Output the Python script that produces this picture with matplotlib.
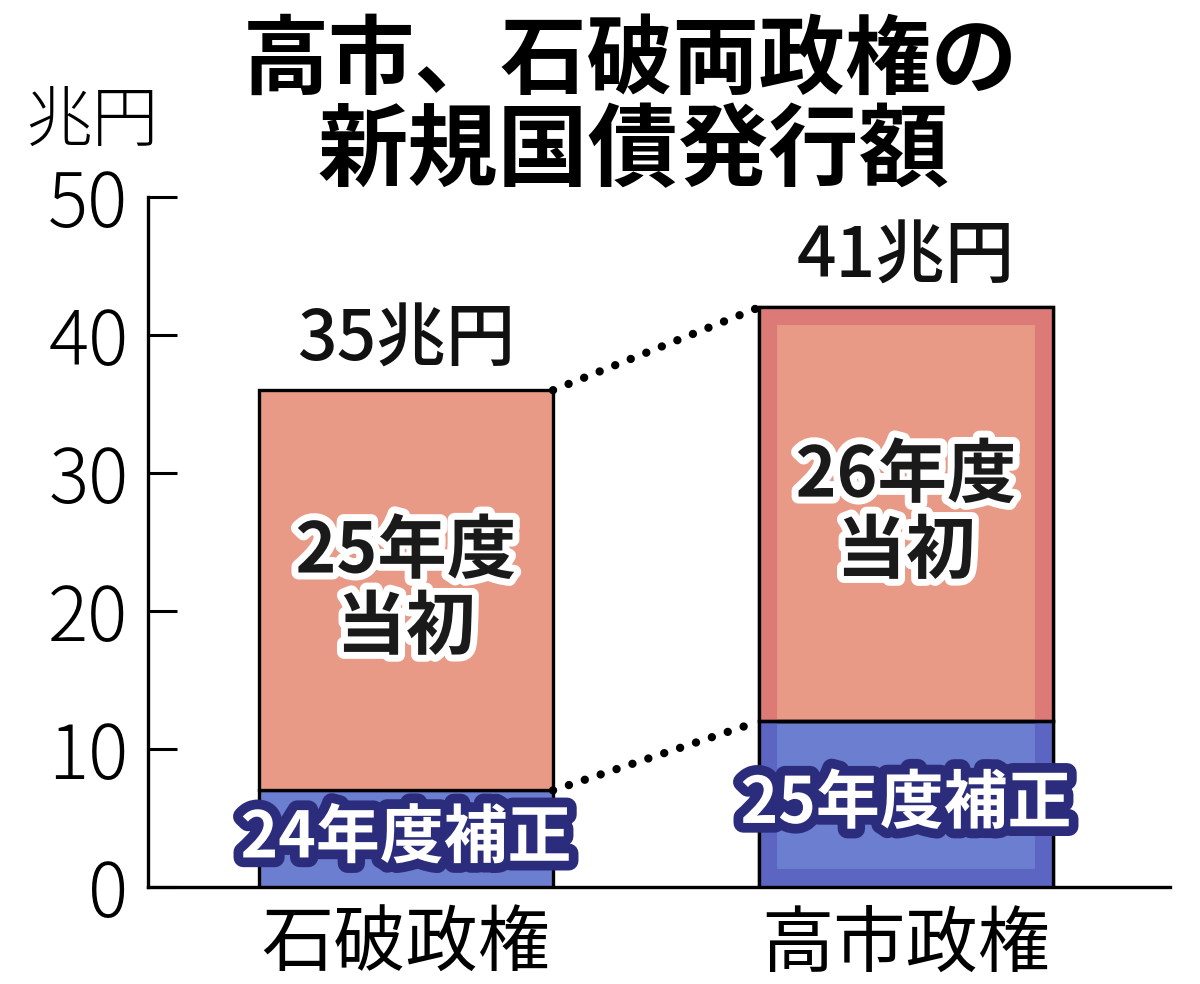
import matplotlib
matplotlib.use("Agg")
import matplotlib.pyplot as plt
import matplotlib.patheffects as pe

plt.rcParams['font.family'] = ['Noto Sans CJK JP', 'DejaVu Sans']

# ---- data ----
categories = ["石破政権", "高市政権"]
hosei_values = [7, 12]        # 補正 (bottom segment)
tosho_values = [29, 30]       # 当初 (top segment)
hosei_labels = ["24年度補正", "25年度補正"]
tosho_labels = ["25年度\n当初", "26年度\n当初"]
total_labels = ["35兆円", "41兆円"]
yticks = [0, 10, 20, 30, 40, 50]
title_lines = ["高市、石破両政権の", "新規国債発行額"]
unit_label = "兆円"

# ---- style ----
red_fill = "#E89A86"
red_frame = "#DC7A78"
blue_fill = "#6C7ED0"
blue_frame = "#5C66C2"
navy = "#2B2D7C"

fig = plt.figure(figsize=(12, 9.84), dpi=100)
ax = fig.add_axes([148/1200, 97/984, 1022/1200, 690/984])

x = list(range(len(categories)))
width = 0.588
ax.set_xlim(-0.516, 1.528)
ax.set_ylim(0, 50)

totals = [h + t for h, t in zip(hosei_values, tosho_values)]

bars_b = ax.bar(x, hosei_values, width=width, color=blue_fill, edgecolor="black",
                linewidth=2.4, zorder=3)
bars_t = ax.bar(x, tosho_values, bottom=hosei_values, width=width, color=red_fill,
                edgecolor="black", linewidth=2.4, zorder=3)

# inner darker frame around the whole right bar, coloured per segment
for bars, fc in ((bars_b, blue_frame), (bars_t, red_frame)):
    p = bars[1]
    frame = plt.Rectangle((p.get_x(), 0), p.get_width(), totals[1], facecolor="none",
                          edgecolor=fc, linewidth=26, zorder=3.5)
    ax.add_patch(frame)
    frame.set_clip_path(p)
    outline = plt.Rectangle(p.get_xy(), p.get_width(), p.get_height(), facecolor="none",
                            edgecolor="black", linewidth=2.4, zorder=3.6)
    ax.add_patch(outline)

# dotted connectors
ax.plot([x[0] + width/2, x[1] - width/2], [totals[0], totals[1]], color="black",
        linewidth=6, linestyle=(0, (0.01, 2.0)), dash_capstyle="round", zorder=4)
ax.plot([x[0] + width/2, x[1] - width/2], [hosei_values[0], hosei_values[1]], color="black",
        linewidth=6, linestyle=(0, (0.01, 2.0)), dash_capstyle="round", zorder=4)

# labels
for i in x:
    ax.text(i, totals[i] + 3.6, total_labels[i], ha="center", va="center",
            fontsize=50, fontweight="medium", color="#111111", zorder=5)
    ax.text(i, hosei_values[i] + tosho_values[i] / 2, tosho_labels[i], ha="center",
            va="center", fontsize=50, fontweight="bold", color="#1a1a1a",
            linespacing=1.1, zorder=5,
            path_effects=[pe.withStroke(linewidth=10, foreground="white")])
    ax.text(i, hosei_values[i] / 2, hosei_labels[i], ha="center", va="center",
            fontsize=46, fontweight="bold", color="white", zorder=5,
            path_effects=[pe.withStroke(linewidth=14, foreground=navy)])

# axes styling
for s in ("top", "right"):
    ax.spines[s].set_visible(False)
for s in ("left", "bottom"):
    ax.spines[s].set_linewidth(2.4)
    ax.spines[s].set_color("black")

ax.set_yticks(yticks)
ax.set_yticklabels([str(v) for v in yticks], fontsize=54, fontweight="light")
ax.tick_params(axis="y", direction="in", length=21, width=2.2, pad=14)
ax.set_xticks(x)
ax.set_xticklabels(categories, fontsize=52)
ax.tick_params(axis="x", length=0, pad=16)

fig.text(0.525, 1 - 62/984, title_lines[0], ha="center", va="center",
         fontsize=62, fontweight="bold")
fig.text(0.528, 1 - 152/984, title_lines[1], ha="center", va="center",
         fontsize=65, fontweight="bold")
fig.text(92/1200, 1 - 122/984, unit_label, ha="center", va="center",
         fontsize=48, fontweight="light")

fig.savefig("out.png", dpi=100, facecolor="white")
